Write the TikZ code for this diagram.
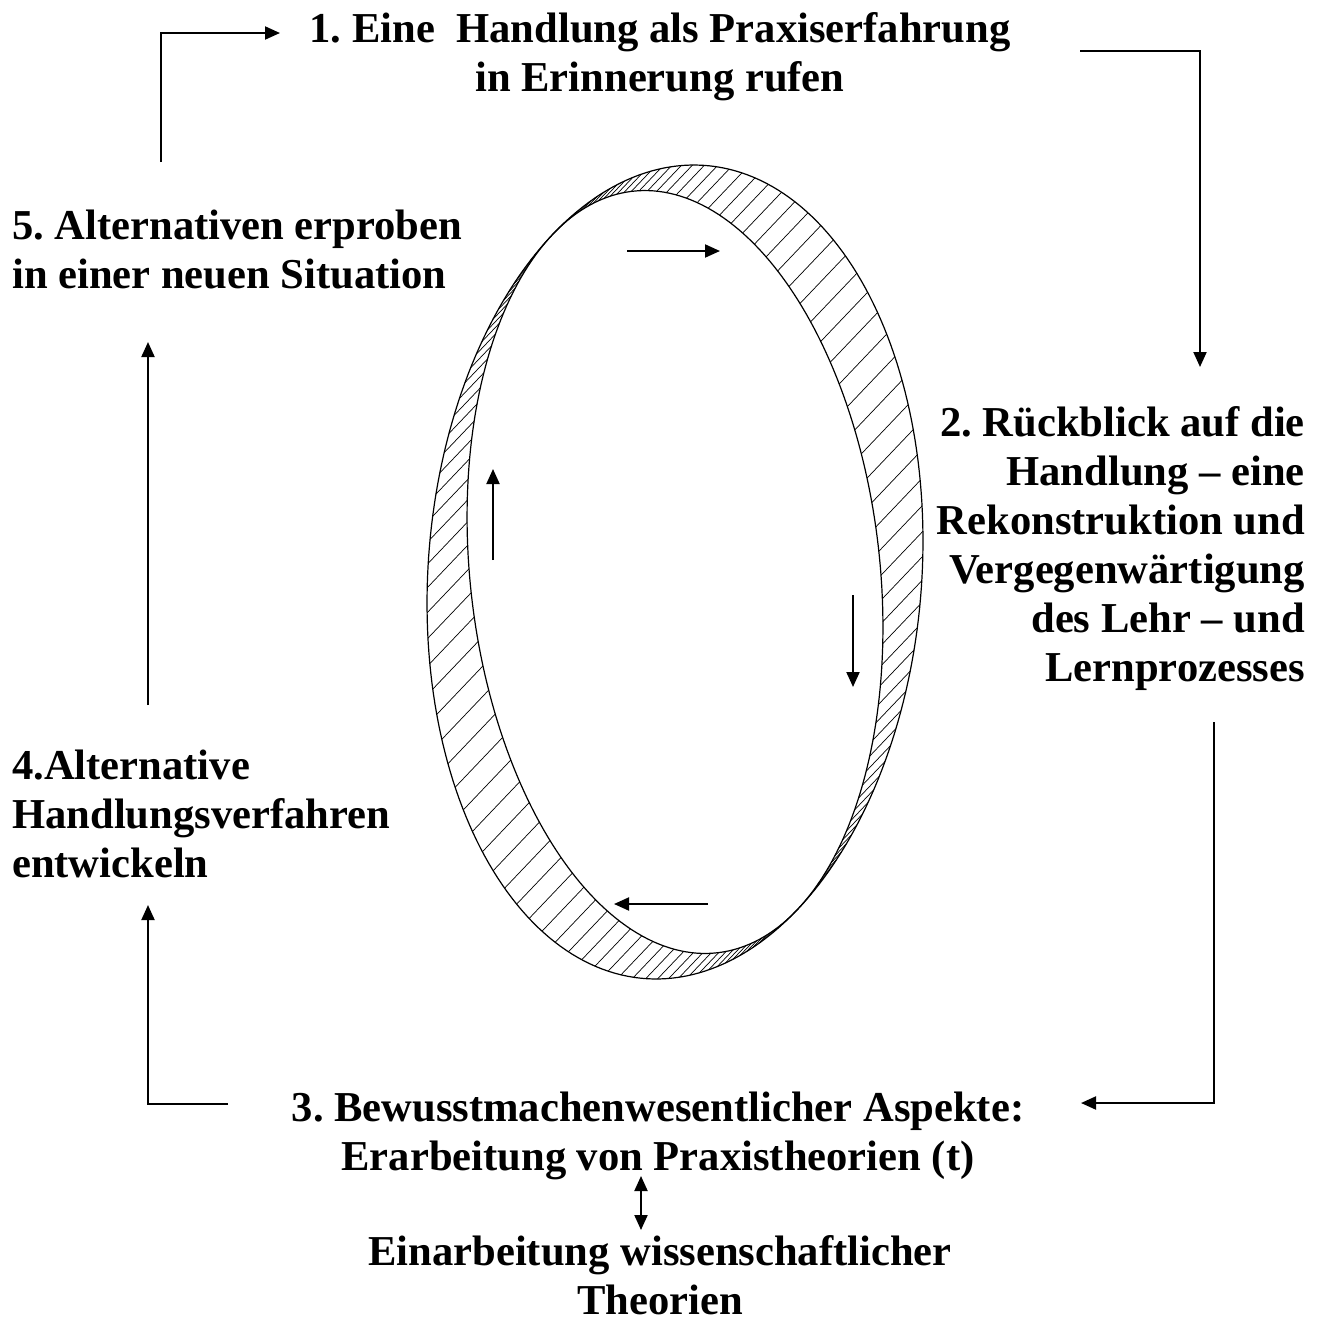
\documentclass[tikz,border=0pt]{standalone}
\usepackage{fontspec}
\setmainfont{Liberation Serif}
\usetikzlibrary{arrows.meta}
\frenchspacing
\begin{document}
\begin{tikzpicture}[x=1pt,y=-1pt,
  lbl/.style={font=\fontsize{42.6}{49}\selectfont\bfseries, inner sep=0pt},
  conn/.style={line width=2pt, -{Triangle[length=15pt,width=13pt]}},
  dconn/.style={line width=2pt, {Triangle[length=15pt,width=13pt]}-{Triangle[length=15pt,width=13pt]}},
  ringline/.style={line width=1.2pt},
  hatchline/.style={line width=0.7pt}]
\useasboundingbox (0,0) rectangle (1322,1318);
% ring geometry (conjugate semi-diameters)
\def\Cx{675}\def\Cy{572}
\def\Px{-122}\def\Py{-338}
\def\Qx{215.9}\def\Qy{-226.7}
\def\Sf{0.78}
% hatching (non-uniform parameter)
\foreach \u in {0,2.4,...,357.6}{
  \pgfmathsetmacro\t{\u-0.3*deg(sin(2*\u))}
  \draw[hatchline] ({\Cx+\Px*cos(\t)+\Qx*sin(\t)},{\Cy+\Py*cos(\t)+\Qy*sin(\t)})
    -- ({\Cx+\Px*cos(\t)+\Sf*\Qx*sin(\t)},{\Cy+\Py*cos(\t)+\Sf*\Qy*sin(\t)});
}
% outer and inner ellipse
\draw[ringline] plot[domain=0:360,samples=241,variable=\t]
  ({\Cx+\Px*cos(\t)+\Qx*sin(\t)},{\Cy+\Py*cos(\t)+\Qy*sin(\t)}) -- cycle;
\draw[ringline] plot[domain=0:360,samples=241,variable=\t]
  ({\Cx+\Px*cos(\t)+\Sf*\Qx*sin(\t)},{\Cy+\Py*cos(\t)+\Sf*\Qy*sin(\t)}) -- cycle;

% text blocks (anchor base = baseline of last line)
\node[lbl, align=center, anchor=base] (t1) at (660,91)
  {1. Eine\ \ Handlung als Praxiserfahrung\\in Erinnerung rufen};
\node[lbl, align=right, anchor=base east] (t2) at (1305,681)
  {2. Rückblick auf die\\Handlung – eine\\Rekonstruktion und\\Vergegenwärtigung\\des Lehr – und\\Lernprozesses};
\node[lbl, align=center, anchor=base] (t3) at (658,1170)
  {3. Bewusstmachenwesentlicher Aspekte:\\Erarbeitung von Praxistheorien (t)};
\node[lbl, align=left, anchor=base west] (t4) at (12,877)
  {4.Alternative\\Handlungsverfahren\\entwickeln};
\node[lbl, align=left, anchor=base west] (t5) at (12,288)
  {5. Alternativen erproben\\in einer neuen Situation};
\node[lbl, align=center, anchor=base, text depth=0pt] (t6) at (660,1314)
  {Einarbeitung wissenschaftlicher\\Theorien};

% connector end points
\coordinate (a1s) at (161,162);
\coordinate (a1e) at (280,33);
\coordinate (a2s) at (1080,51);
\coordinate (a2e) at (1200,367);
\coordinate (a3s) at (1214,722);
\coordinate (a3e) at (1081,1103);
\coordinate (a4s) at (228,1104);
\coordinate (a4e) at (148,905);
\coordinate (a5s) at (148,705);
\coordinate (a5e) at (148,342);
\coordinate (d1) at (641,1176);
\coordinate (d2) at (641,1230);
\coordinate (i1s) at (627,251);
\coordinate (i1e) at (720,251);
\coordinate (i2s) at (853,595);
\coordinate (i2e) at (853,687);
\coordinate (i3s) at (708,904);
\coordinate (i3e) at (614,904);
\coordinate (i4s) at (493,560);
\coordinate (i4e) at (493,469);

\draw[conn] (a1s) |- (a1e);
\draw[conn] (a2s) -| (a2e);
\draw[conn] (a3s) |- (a3e);
\draw[conn] (a4s) -| (a4e);
\draw[conn] (a5s) -- (a5e);
\draw[dconn] (d1) -- (d2);
\draw[conn] (i1s) -- (i1e);
\draw[conn] (i2s) -- (i2e);
\draw[conn] (i3s) -- (i3e);
\draw[conn] (i4s) -- (i4e);
\end{tikzpicture}
\end{document}
